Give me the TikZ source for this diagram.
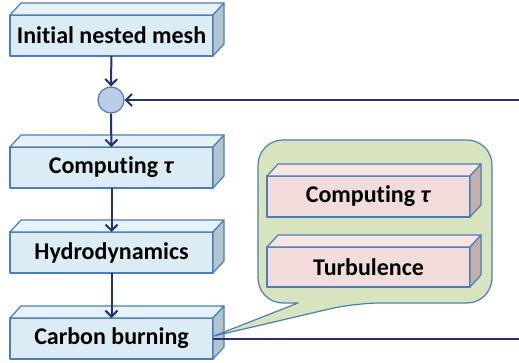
\documentclass[tikz,border=0pt]{standalone}
\usepackage{fontspec}
\setmainfont[Ligatures=NoCommon]{Carlito}
\usetikzlibrary{arrows.meta}
\definecolor{flowline}{RGB}{38,48,118}
\definecolor{slabrim}{RGB}{74,126,187}
\definecolor{bluefront}{RGB}{220,236,244}
\definecolor{bluetop}{RGB}{230,242,248}
\definecolor{blueside}{RGB}{178,196,204}
\definecolor{pinkfront}{RGB}{242,220,219}
\definecolor{pinktop}{RGB}{245,228,227}
\definecolor{pinkside}{RGB}{196,175,174}
\definecolor{calloutfill}{RGB}{215,228,189}
\definecolor{junctionfill}{RGB}{185,205,229}
\tikzset{
  slabedge/.style={draw=slabrim,line width=1.2pt,line join=round},
  slab/.style={slabedge,minimum width=203pt,minimum height=41pt,inner sep=0pt,outer sep=0pt,
    font=\fontsize{24}{28}\selectfont\bfseries},
  blueslab/.style={slab,fill=bluefront},
  pinkslab/.style={slab,fill=pinkfront},
  flow/.style={draw=flowline,line width=2pt,-{Straight Barb[length=6pt,width=12pt,line width=2pt]}},
}
% top and side faces of a slab
\newcommand{\slabdepth}[3]{%
  \draw[slabedge,fill=#2] (#1.north west) -- ++(11pt,12pt) -- ([shift={(11pt,12pt)}]#1.north east) -- (#1.north east) -- cycle;
  \draw[slabedge,fill=#3] (#1.north east) -- ++(11pt,12pt) -- ([shift={(11pt,12pt)}]#1.south east) -- (#1.south east) -- cycle;}
\begin{document}
\begin{tikzpicture}[x=1pt,y=1pt]
\useasboundingbox (0,0) rectangle (519,362);
% main column
\node[blueslab] (mesh) at (111.5,326.5) {Initial nested mesh};
\slabdepth{mesh}{bluetop}{blueside}
\node[circle,draw=slabrim,line width=1.2pt,fill=junctionfill,minimum size=26pt,inner sep=0pt] (join) at (111,262) {};
\node[blueslab] (tau) at (111.5,194.5) {Computing \textit{τ}};
\slabdepth{tau}{bluetop}{blueside}
\node[blueslab] (hydro) at (111.5,109.5) {Hydrodynamics};
\slabdepth{hydro}{bluetop}{blueside}
\node[blueslab] (carbon) at (111.5,23.5) {Carbon burning};
\slabdepth{carbon}{bluetop}{blueside}
% callout
\draw[slabedge,fill=calloutfill,rounded corners=25pt] (298,59) -- (258,59) -- (258,222) -- (492,222) -- (492,59) -- (355,59)
  [sharp corners] -- (214,26) -- cycle;
\node[pinkslab] (subtau) at (368.5,165.5) {Computing \textit{τ}};
\slabdepth{subtau}{pinktop}{pinkside}
\node[pinkslab,minimum height=40pt] (turb) at (368.5,95) {Turbulence};
\slabdepth{turb}{pinktop}{pinkside}
% connectors
\coordinate (loopin) at (519,262);
\coordinate (loopout) at (519,23.5);
\draw[flow] (mesh) -- (join);
\draw[flow] (join) -- (tau);
\draw[flow] (tau) -- (hydro);
\draw[flow] (hydro) -- (carbon);
\draw[flow] (loopin) -- (join);
\draw[draw=flowline,line width=2pt] (carbon.east) -- (loopout);
\end{tikzpicture}
\end{document}
